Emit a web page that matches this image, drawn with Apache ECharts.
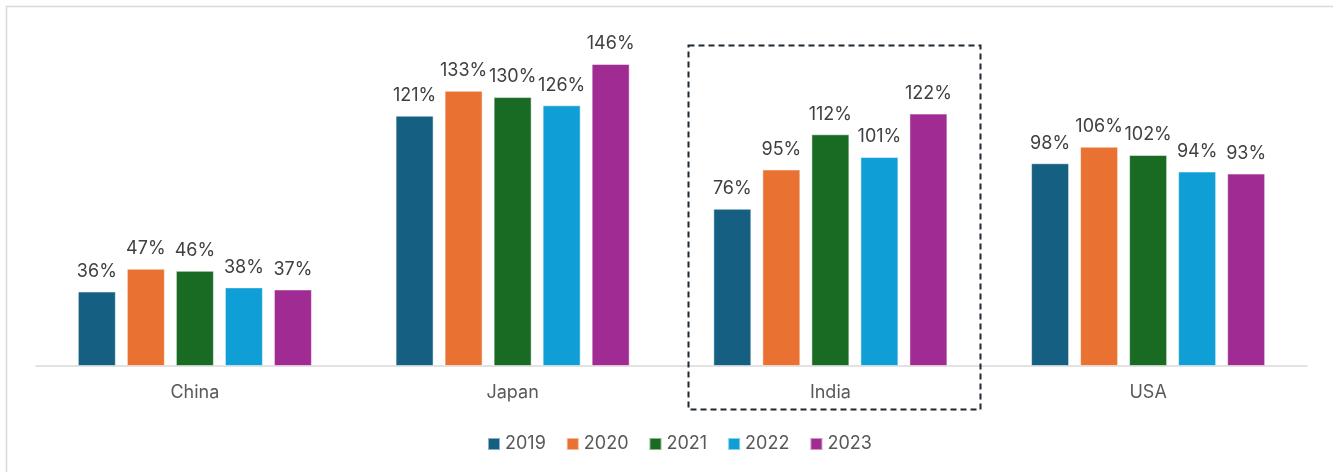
<!DOCTYPE html>
<html>
<head>
<meta charset="utf-8">
<script src="https://cdn.jsdelivr.net/npm/echarts@6/dist/echarts.min.js"></script>
<style>
  html, body { margin: 0; padding: 0; background: #fff; }
  #main { width: 1333px; height: 472px; }
</style>
</head>
<body>
<div id="main"></div>
<script>
var countries = ['China', 'Japan', 'India', 'USA'];
var years = ['2019', '2020', '2021', '2022', '2023'];
// values per year, in country order
var v2019 = [36, 121, 76, 98];
var v2020 = [47, 133, 95, 106];
var v2021 = [46, 130, 112, 102];
var v2022 = [38, 126, 101, 94];
var v2023 = [37, 146, 122, 93];
var colors = ['#156082', '#E97132', '#196B24', '#0F9ED5', '#A02B93'];

var allData = [v2019, v2020, v2021, v2022, v2023];
var fontName = 'Inter, Liberation Sans, sans-serif';

var myChart = echarts.init(document.getElementById('main'));
var option = {
    animation: false,
    color: colors,
    grid: {
        left: 36,
        right: 26,
        top: 35,
        bottom: 106
    },
    legend: {
        data: years,
        bottom: 14,
        left: 482,
        icon: 'rect',
        itemWidth: 12,
        itemHeight: 12,
        itemGap: 20,
        textStyle: { color: '#595959', fontSize: 18, fontFamily: fontName }
    },
    xAxis: {
        type: 'category',
        data: countries,
        axisTick: { show: false },
        axisLine: { lineStyle: { color: '#d9d9d9', width: 1.5 } },
        axisLabel: { color: '#595959', fontSize: 18, margin: 18, fontFamily: fontName }
    },
    yAxis: {
        type: 'value',
        min: 0,
        max: 160,
        show: false,
        splitLine: { show: false }
    },
    graphic: [
        {
            type: 'rect',
            shape: { x: 6.5, y: 6.5, width: 1400, height: 500 },
            style: { fill: 'none', stroke: '#d9d9d9', lineWidth: 1.5 },
            silent: true
        },
        {
            type: 'rect',
            shape: { x: 688.5, y: 45.5, width: 292, height: 364 },
            style: { fill: 'none', stroke: '#1f2933', lineWidth: 2, lineDash: [6, 4] },
            silent: true,
            z: 10
        }
    ],
    series: years.map(function(y, i) {
        return {
            name: y,
            type: 'bar',
            data: allData[i],
            barWidth: 38,
            barGap: '29%',
            itemStyle: { borderColor: 'rgba(255,255,255,0.5)', borderWidth: 1 },
            label: {
                show: true,
                position: 'top',
                distance: 11,
                formatter: '{c}%',
                color: '#404040',
                fontSize: 18,
                fontFamily: fontName
            }
        };
    })
};
myChart.setOption(option);
window.addEventListener('resize', function() {
    myChart.resize();
});
</script>
</body>
</html>
